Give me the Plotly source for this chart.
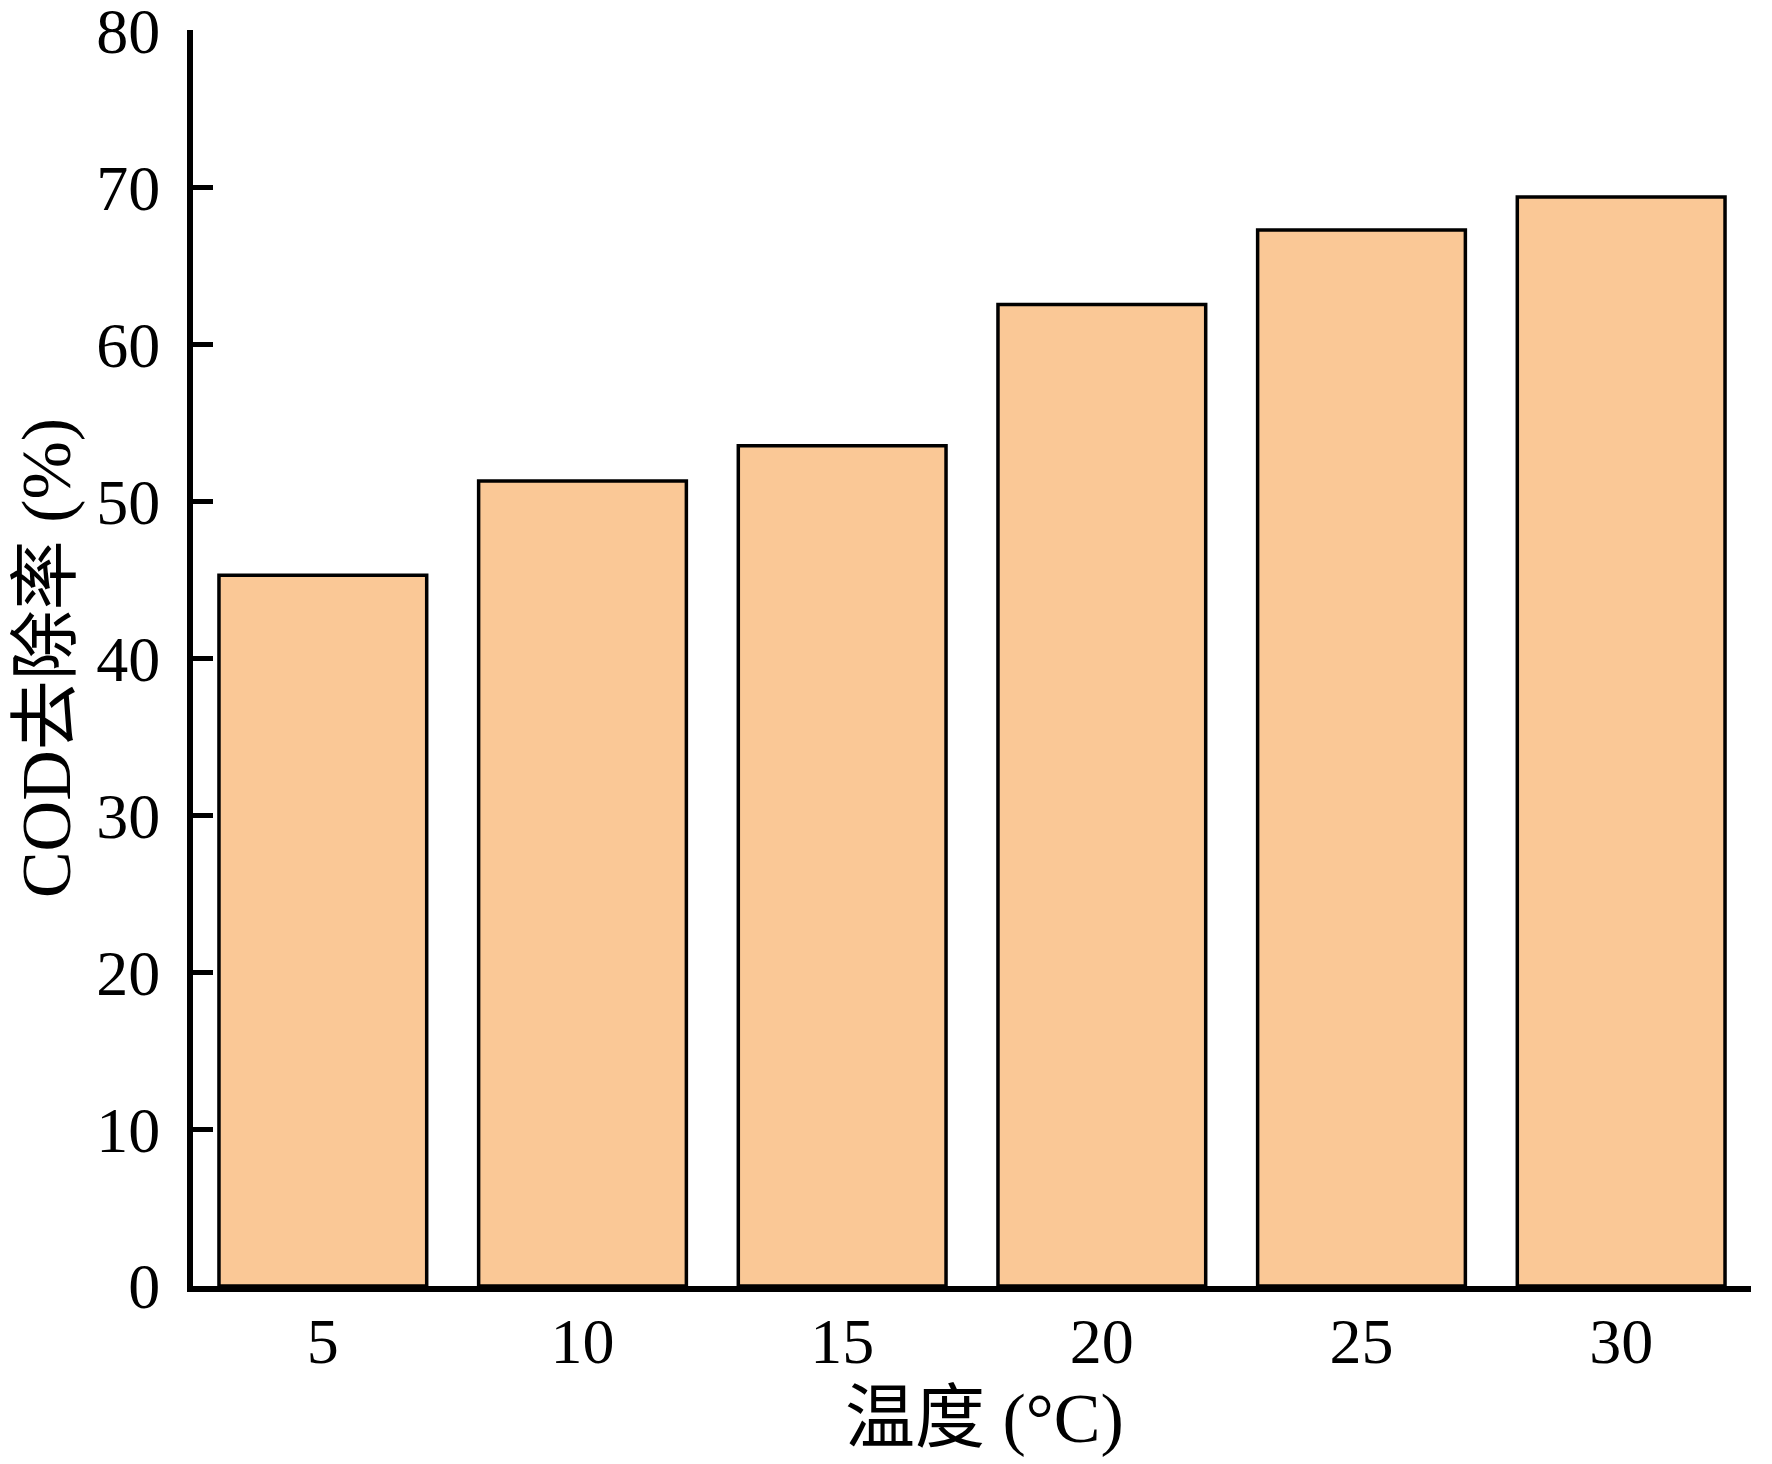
import plotly.graph_objects as go

temperatures = ["5", "10", "15", "20", "25", "30"]
cod_removal = [45.3, 51.3, 53.55, 62.55, 67.3, 69.4]
y_ticks = [0, 10, 20, 30, 40, 50, 60, 70, 80]

serif = "Liberation Serif, Times New Roman, Noto Sans CJK SC, serif"

fig = go.Figure(
    go.Bar(
        x=temperatures,
        y=cod_removal,
        width=0.8,
        marker=dict(color="#FAC896", line=dict(color="black", width=3.5)),
    )
)

fig.update_layout(
    width=1772,
    height=1464,
    margin=dict(l=185, r=29, t=22, b=186),
    plot_bgcolor="white",
    paper_bgcolor="white",
    showlegend=False,
    font=dict(family=serif, color="black"),
    annotations=[
        dict(
            text="温度 (°C)",
            xref="paper", yref="paper",
            x=0.508, y=-0.1057,
            xanchor="center", yanchor="middle",
            showarrow=False,
            font=dict(size=70, family=serif, color="black"),
        )
    ],
)

fig.update_xaxes(
    type="category",
    range=[-0.5, 5.5],
    automargin=False,
    showline=True,
    linecolor="black",
    linewidth=6,
    ticks="",
    showgrid=False,
    tickfont=dict(size=64, family=serif, color="black"),
    ticklabelstandoff=-6,
)

fig.update_yaxes(
    range=[0, 80.05],
    tickvals=y_ticks,
    ticktext=[str(v) for v in y_ticks],
    automargin=False,
    ticklabeloverflow="allow",
    showline=True,
    linecolor="black",
    linewidth=6,
    ticks="inside",
    ticklen=20,
    tickwidth=5,
    tickcolor="black",
    showgrid=False,
    zeroline=False,
    tickfont=dict(size=64, family=serif, color="black"),
    ticklabelstandoff=14,
    title=dict(text="COD去除率 (%)", font=dict(size=70, family=serif, color="black"), standoff=22),
)

fig.write_html("out.html")
